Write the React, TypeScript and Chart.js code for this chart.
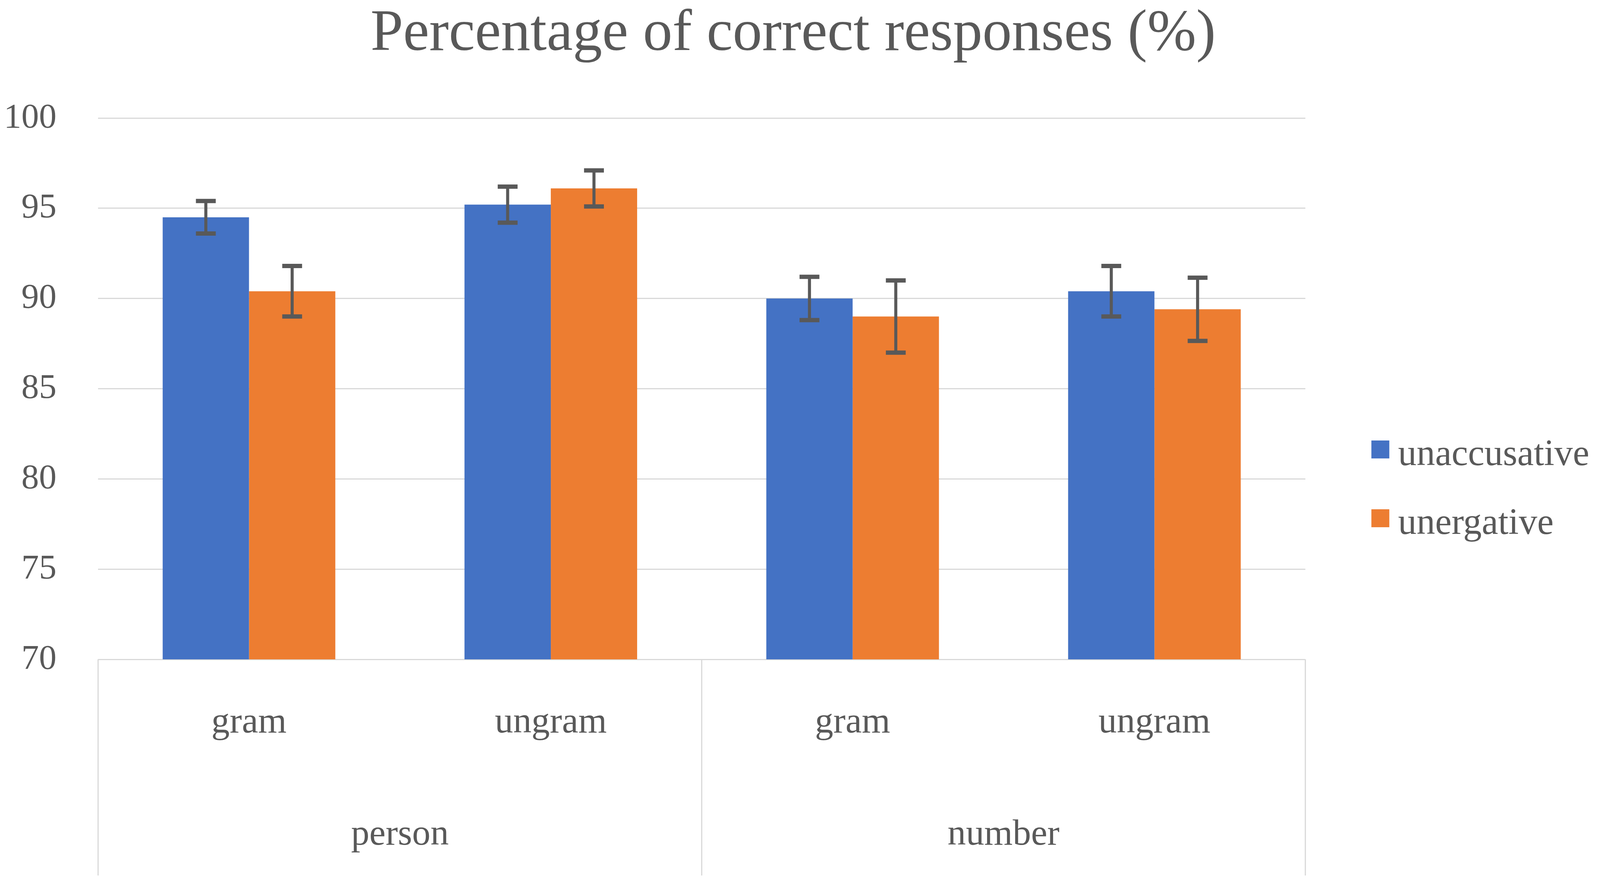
import { useEffect, useRef } from "react";
import { Chart, registerables } from "chart.js";

Chart.register(...registerables);

const categories = ["gram", "ungram", "gram", "ungram"];
const groups = ["person", "number"];
const seriesNames = ["unaccusative", "unergative"];
const unaccusative = [94.5, 95.2, 90.0, 90.4];
const unergative = [90.4, 96.1, 89.0, 89.4];
const unaccusativeErr = [0.9, 1.0, 1.2, 1.4];
const unergativeErr = [1.4, 1.0, 2.0, 1.75];
const yMin = 70;
const yMax = 100;
const yStep = 5;
const titleText = "Percentage of correct responses (%)";

const FONT = '"Liberation Serif", "Times New Roman", serif';
const TEXT = "#595959";
const GRID = "#D9D9D9";
const BLUE = "#4472C4";
const ORANGE = "#ED7D31";

// design reference size
const REF_W = 4192;
const REF_H = 2272;

function makeErrorBarPlugin(sx: number, sy: number) {
  return {
    id: "errorBars",
    afterDatasetsDraw(chart: any) {
      const { ctx } = chart;
      const yScale = chart.scales.y;
      chart.data.datasets.forEach((ds: any, di: number) => {
        const meta = chart.getDatasetMeta(di);
        meta.data.forEach((el: any, i: number) => {
          const v = ds.data[i];
          const e = ds.errors[i];
          const top = yScale.getPixelForValue(v + e);
          const bot = yScale.getPixelForValue(v - e);
          const x = el.x;
          const half = 26 * sx;
          ctx.save();
          ctx.strokeStyle = TEXT;
          ctx.lineWidth = 8 * sx;
          ctx.beginPath();
          ctx.moveTo(x, top);
          ctx.lineTo(x, bot);
          ctx.stroke();
          ctx.lineWidth = 11 * sy;
          ctx.beginPath();
          ctx.moveTo(x - half, top);
          ctx.lineTo(x + half, top);
          ctx.moveTo(x - half, bot);
          ctx.lineTo(x + half, bot);
          ctx.stroke();
          ctx.restore();
        });
      });
    },
  };
}

function makeDecorPlugin(sx: number, sy: number, fs: number) {
  return {
    id: "decor",
    afterDraw(chart: any) {
      const { ctx, chartArea } = chart;
      const xs = chart.scales.x;
      ctx.save();
      // title
      ctx.fillStyle = TEXT;
      ctx.font = `${154 * fs}px ${FONT}`;
      ctx.textAlign = "center";
      ctx.textBaseline = "alphabetic";
      ctx.fillText(titleText, chart.width / 2 - 18 * sx, chartArea.top - 174 * sy);

      // multi-level category box lines
      const boxBottom = chartArea.bottom + 553 * sy;
      const mid = (xs.getPixelForTick(1) + xs.getPixelForTick(2)) / 2;
      ctx.strokeStyle = GRID;
      ctx.lineWidth = 3;
      [chartArea.left, mid, chartArea.right].forEach((px: number) => {
        ctx.beginPath();
        ctx.moveTo(px, chartArea.bottom);
        ctx.lineTo(px, boxBottom);
        ctx.stroke();
      });

      // group labels
      ctx.font = `${96 * fs}px ${FONT}`;
      ctx.fillStyle = TEXT;
      groups.forEach((g, gi) => {
        const cx = (xs.getPixelForTick(gi * 2) + xs.getPixelForTick(gi * 2 + 1)) / 2;
        ctx.fillText(g, cx, chartArea.bottom + 474 * sy);
      });

      // legend
      const lx = chartArea.right + 173 * sx;
      const ly = chartArea.top + 825 * sy;
      const box = 47 * fs;
      ctx.font = `${97 * fs}px ${FONT}`;
      ctx.textAlign = "left";
      chart.data.datasets.forEach((ds: any, i: number) => {
        ctx.fillStyle = ds.backgroundColor;
        ctx.fillRect(lx, ly + i * 176 * sy, box, box);
        ctx.fillStyle = TEXT;
        ctx.fillText(ds.label, lx + 70 * sx, ly + i * 176 * sy + 63 * sy);
      });
      ctx.restore();
    },
  };
}

export default function App() {
  const canvasRef = useRef<HTMLCanvasElement | null>(null);

  useEffect(() => {
    if (!canvasRef.current) return;
    const W = window.innerWidth || REF_W;
    const H = window.innerHeight || REF_H;
    const sx = W / REF_W;
    const sy = H / REF_H;
    const fs = Math.min(sx, sy);
    const chart = new Chart(canvasRef.current, {
      type: "bar",
      data: {
        labels: categories,
        datasets: [
          {
            label: seriesNames[0],
            data: unaccusative,
            errors: unaccusativeErr,
            backgroundColor: BLUE,
            borderWidth: 0,
            categoryPercentage: 0.572,
            barPercentage: 1.0,
          } as any,
          {
            label: seriesNames[1],
            data: unergative,
            errors: unergativeErr,
            backgroundColor: ORANGE,
            borderWidth: 0,
            categoryPercentage: 0.572,
            barPercentage: 1.0,
          } as any,
        ],
      },
      options: {
        animation: false,
        responsive: true,
        maintainAspectRatio: false,
        devicePixelRatio: 1,
        layout: { padding: { top: 302 * sy, right: 772 * sx, bottom: 0, left: 0 } },
        plugins: {
          legend: { display: false },
          title: { display: false },
          tooltip: { enabled: false },
        },
        scales: {
          x: {
            grid: { display: false, drawTicks: false },
            border: { display: false },
            ticks: {
              color: TEXT,
              font: { family: FONT, size: 96 * fs },
              padding: 106 * sy,
              maxRotation: 0,
              autoSkip: false,
            },
            afterFit: (scale: any) => {
              scale.height = 585 * sy;
            },
          },
          y: {
            min: yMin,
            max: yMax,
            ticks: {
              stepSize: yStep,
              color: TEXT,
              font: { family: FONT, size: 92 * fs },
              padding: 109 * sx,
            },
            grid: { color: GRID, lineWidth: 3, drawTicks: false },
            border: { display: false },
            afterFit: (scale: any) => {
              scale.width = 257 * sx;
            },
          },
        },
      } as any,
      plugins: [makeErrorBarPlugin(sx, sy), makeDecorPlugin(sx, sy, fs)],
    });
    return () => chart.destroy();
  }, []);

  return (
    <div style={{ position: "fixed", left: 0, top: 0, width: "100vw", height: "100vh", background: "#fff" }}>
      <canvas ref={canvasRef} />
    </div>
  );
}
